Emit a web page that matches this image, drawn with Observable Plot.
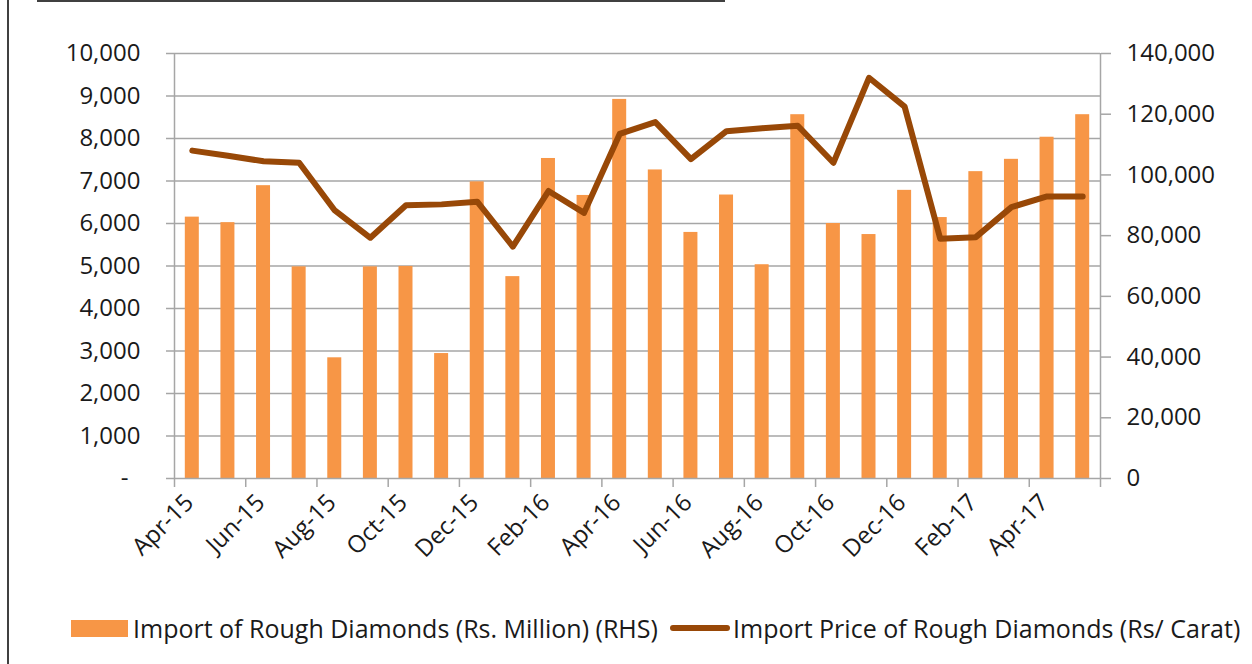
<!DOCTYPE html>
<html>
<head>
<meta charset="utf-8">
<script src="https://cdn.jsdelivr.net/npm/d3@7"></script>
<script src="https://cdn.jsdelivr.net/npm/@observablehq/plot@0.6"></script>
<style>
  html, body { margin: 0; padding: 0; background: #fff; }
  body { width: 1252px; height: 664px; overflow: hidden; position: relative; font-family: "Open Sans", Lato, sans-serif; color: #1a1a1a; }
  #chart { position: absolute; left: 0; top: 0; }
  .frame-left { position: absolute; left: 7px; top: 0; width: 2px; height: 664px; background: #404040; }
  .frame-top { position: absolute; left: 37px; top: 0; width: 688px; height: 2px; background: #404040; }
  .legend-item { position: absolute; top: 611px; height: 34px; display: flex; align-items: center; font-size: 25px; white-space: nowrap; }
  .swatch-bar { width: 57px; height: 17px; background: #f79646; margin-right: 5px; }
  .swatch-line { width: 60px; height: 6px; border-radius: 3px; background: #984807; margin-right: 3px; }
</style>
</head>
<body>
<div class="frame-left"></div>
<div class="frame-top"></div>
<div id="chart"></div>
<div class="legend-item" style="left:71px"><span class="swatch-bar"></span><span id="lg1"></span></div>
<div class="legend-item" style="left:670px"><span class="swatch-line"></span><span id="lg2"></span></div>
<script>
// ---- data ----
const months = ["Apr-15","May-15","Jun-15","Jul-15","Aug-15","Sep-15","Oct-15","Nov-15","Dec-15",
  "Jan-16","Feb-16","Mar-16","Apr-16","May-16","Jun-16","Jul-16","Aug-16","Sep-16","Oct-16","Nov-16","Dec-16",
  "Jan-17","Feb-17","Mar-17","Apr-17","May-17"];
const imports = [6150,6020,6890,4980,2840,4980,4990,2940,6980,4750,7530,6660,8920,7260,5790,6670,5030,8560,
  6000,5740,6780,6140,7220,7510,8030,8560];
const prices = [108000,106300,104500,104000,88300,79300,90000,90300,91200,76400,94700,87500,113500,117400,
  105200,114400,115400,116200,104000,132000,122500,79000,79500,89400,92900,92900];
const leftTicks = [0,1000,2000,3000,4000,5000,6000,7000,8000,9000,10000];
const rightTicks = [0,20000,40000,60000,80000,100000,120000,140000];
const barName = "Import of Rough Diamonds (Rs. Million) (RHS)";
const lineName = "Import Price of Rough Diamonds (Rs/ Carat)";

// ---- build ----
document.getElementById("lg1").textContent = barName;
document.getElementById("lg2").textContent = lineName;
const leftMax = leftTicks[leftTicks.length - 1];
const rightMax = rightTicks[rightTicks.length - 1];
const ratio = rightMax / leftMax;
const rows = months.map((m, i) => ({ i, month: m, imp: imports[i], price: prices[i] }));
const n = months.length;
const fmt = d3.format(",");
const grey = "#a6a6a6";
const barFrac = 0.393;
const xTicks = d3.range(0, n + 1, 2).concat(n % 2 ? [n] : []);
const font = "'Open Sans', Lato, sans-serif";

const chart = Plot.plot({
  width: 1252,
  height: 590,
  marginLeft: 174,
  marginRight: 152,
  marginTop: 53,
  marginBottom: 112,
  style: { fontFamily: font, fontSize: "24px", color: "#1a1a1a", background: "transparent", overflow: "visible" },
  x: { type: "linear", domain: [0, n] },
  y: { domain: [0, leftMax] },
  marks: [
    Plot.gridY(leftTicks.slice(1), { stroke: grey, strokeOpacity: 1, strokeWidth: 1.5 }),
    Plot.rectY(rows, {
      x1: d => d.i + (1 - barFrac) / 2,
      x2: d => d.i + (1 + barFrac) / 2,
      y1: 0, y2: "imp",
      fill: "#f79646"
    }),
    Plot.ruleX([0, n], { stroke: grey, strokeWidth: 1.5 }),
    Plot.ruleY([0], { stroke: grey, strokeWidth: 1.5 }),
    Plot.line(rows, {
      x: d => d.i + 0.5,
      y: d => d.price / ratio,
      stroke: "#984807", strokeWidth: 6, strokeLinejoin: "round", strokeLinecap: "round"
    }),
    Plot.axisY(leftTicks.slice(1), {
      anchor: "left", tickSize: 8, tickPadding: 26, stroke: grey, strokeWidth: 1.5,
      tickFormat: d => fmt(d), label: null
    }),
    Plot.axisY([0], {
      anchor: "left", tickSize: 8, tickPadding: 38, stroke: grey, strokeWidth: 1.5,
      tickFormat: () => "-", label: null
    }),
    Plot.axisY(rightTicks.map(v => v / ratio), {
      anchor: "right", tickSize: 10, tickPadding: 16, stroke: grey, strokeWidth: 1.5,
      tickFormat: d => fmt(Math.round(d * ratio)), label: null
    }),
    Plot.axisX(xTicks, {
      anchor: "bottom", tickSize: 9, stroke: grey, strokeWidth: 1.5,
      tickFormat: () => "", label: null
    }),
    Plot.axisX(xTicks.filter(i => i < n), {
      anchor: "bottom", tickSize: 0, tickPadding: 13, tickRotate: -45, dx: 15, dy: 7,
      tickFormat: i => months[i], label: null
    })
  ]
});
document.getElementById("chart").appendChild(chart);
</script>
</body>
</html>
